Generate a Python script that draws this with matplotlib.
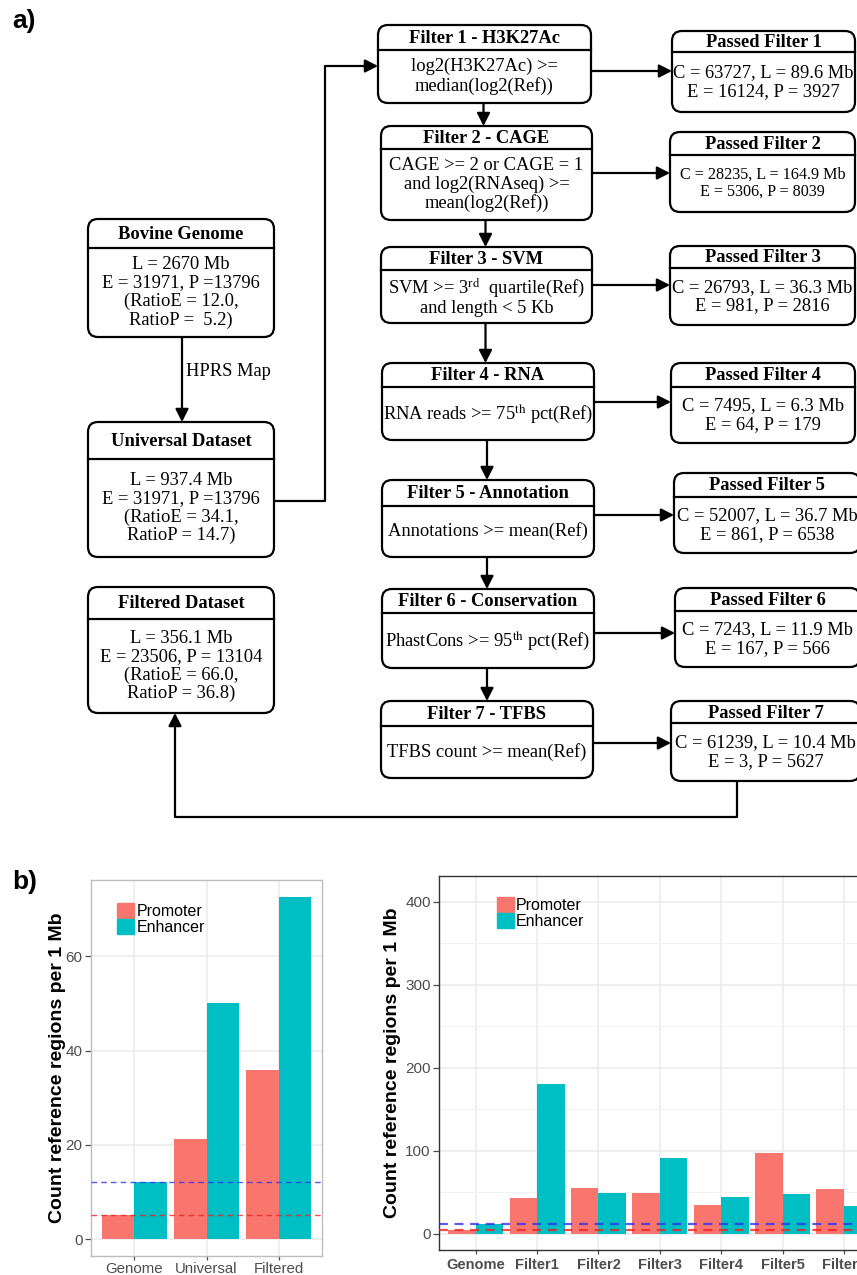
import matplotlib.pyplot as plt
from matplotlib.patches import FancyBboxPatch, Patch

plt.rcParams['font.family'] = 'Liberation Sans'
plt.rcParams['mathtext.fontset'] = 'stix'

# ---- panel b data (regions per 1 Mb) ----
left_cats = ['Genome', 'Universal', 'Filtered']
left_promoter = [5.2, 21.2, 35.8]
left_enhancer = [12.0, 50.2, 72.6]

right_cats = ['Genome', 'Filter1', 'Filter2', 'Filter3', 'Filter4', 'Filter5', 'Filter6']
right_promoter = [5.2, 43.6, 55.0, 49.6, 35.0, 97.6, 54.0]
right_enhancer = [12.0, 181.0, 49.0, 91.6, 45.0, 48.0, 34.0]

genome_ratio_promoter = 5.2
genome_ratio_enhancer = 12.0

# ---- panel a text ----
filter_titles = ['Filter 1 - H3K27Ac', 'Filter 2 - CAGE', 'Filter 3 - SVM', 'Filter 4 - RNA',
                 'Filter 5 - Annotation', 'Filter 6 - Conservation', 'Filter 7 - TFBS']
filter_rules = ['log2(H3K27Ac) >=\nmedian(log2(Ref))',
                'CAGE >= 2 or CAGE = 1\nand log2(RNAseq) >=\nmean(log2(Ref))',
                'SVM >= 3$^{\\mathrm{rd}}$  quartile(Ref)\nand length < 5 Kb',
                'RNA reads >= 75$^{\\mathrm{th}}$ pct(Ref)',
                'Annotations >= mean(Ref)',
                'PhastCons >= 95$^{\\mathrm{th}}$ pct(Ref)',
                'TFBS count >= mean(Ref)']
passed_titles = ['Passed Filter %d' % i for i in range(1, 8)]
passed_counts = ['C = 63727, L = 89.6 Mb\nE = 16124, P = 3927',
                 'C = 28235, L = 164.9 Mb\nE = 5306, P = 8039',
                 'C = 26793, L = 36.3 Mb\nE = 981, P = 2816',
                 'C = 7495, L = 6.3 Mb\nE = 64, P = 179',
                 'C = 52007, L = 36.7 Mb\nE = 861, P = 6538',
                 'C = 7243, L = 11.9 Mb\nE = 167, P = 566',
                 'C = 61239, L = 10.4 Mb\nE = 3, P = 5627']
dataset_titles = ['Bovine Genome', 'Universal Dataset', 'Filtered Dataset']
dataset_stats = ['L = 2670 Mb\nE = 31971, P =13796\n(RatioE = 12.0,\nRatioP =  5.2)',
                 'L = 937.4 Mb\nE = 31971, P =13796\n(RatioE = 34.1,\nRatioP = 14.7)',
                 'L = 356.1 Mb\nE = 23506, P = 13104\n(RatioE = 66.0,\nRatioP = 36.8)']

# box geometry in pixels: x0, y0, x1, y1, header line y
filter_boxes = [(378, 25, 591, 103, 50), (381, 126, 592, 220, 149), (381, 247, 592, 323, 270),
                (382, 363, 594, 440, 387), (382, 480, 594, 557, 506), (382, 589, 594, 668, 613),
                (381, 701, 593, 778, 726)]
passed_boxes = [(672, 31, 855, 112, 52), (670, 132, 855, 212, 155), (670, 246, 855, 325, 268),
                (671, 363, 855, 443, 387), (674, 473, 860, 553, 497), (675, 588, 860, 667, 611),
                (671, 701, 860, 781, 723)]
dataset_boxes = [(88, 219, 274, 337, 248), (88, 422, 274, 557, 459), (88, 587, 274, 713, 619)]
link_y = [71, 173, 285, 402, 515, 633, 743]

W, H = 857, 1275
fig = plt.figure(figsize=(W / 100, H / 100), dpi=100)
ax = fig.add_axes([0, 0, 1, 1])
ax.set_xlim(0, W)
ax.set_ylim(H, 0)
ax.axis('off')

LW = 1.6
FS = 13.3
serif = 'Liberation Serif'


def box(geom, title, body, size=FS):
    x0, y0, x1, y1, yh = geom
    ax.add_patch(FancyBboxPatch((x0, y0), x1 - x0, y1 - y0,
                                boxstyle='round,pad=0,rounding_size=10',
                                fc='white', ec='black', lw=LW))
    ax.plot([x0, x1], [yh, yh], color='black', lw=LW)
    ax.text((x0 + x1) / 2, (y0 + yh) / 2 + 1, title, ha='center', va='center',
            family=serif, weight='bold', fontsize=FS)
    ax.text((x0 + x1) / 2, (yh + y1) / 2, body, ha='center', va='center',
            family=serif, fontsize=size, linespacing=1.1)


def arrow(x0, y0, x1, y1):
    ax.annotate('', xy=(x1, y1), xytext=(x0, y0),
                arrowprops=dict(arrowstyle='-|>,head_length=0.55,head_width=0.28',
                                color='black', lw=LW, shrinkA=0, shrinkB=0,
                                mutation_scale=14))


def line(xs, ys):
    ax.plot(xs, ys, color='black', lw=LW, solid_joinstyle='round', solid_capstyle='butt')


for i in range(7):
    box(filter_boxes[i], filter_titles[i], filter_rules[i])
    box(passed_boxes[i], passed_titles[i], passed_counts[i], size=11.6 if i == 1 else FS)
    arrow(filter_boxes[i][2], link_y[i], passed_boxes[i][0], link_y[i])
    if i < 6:
        xc = (filter_boxes[i][0] + filter_boxes[i][2]) / 2 - 1
        arrow(xc, filter_boxes[i][3], xc, filter_boxes[i + 1][1])

for i in range(3):
    box(dataset_boxes[i], dataset_titles[i], dataset_stats[i])

# genome -> universal
arrow(182, 337, 182, 422)
ax.text(186, 371, 'HPRS Map', ha='left', va='center', family=serif, fontsize=FS)
# universal -> filter 1
line([274, 325, 325], [501, 501, 66])
arrow(325, 66, 378, 66)
# passed filter 7 -> filtered dataset
line([737, 737, 175, 175], [781, 817, 817, 760])
arrow(175, 760, 175, 713)

ax.text(12, 21, 'a)', fontsize=19, weight='bold', ha='left', va='center')
ax.text(12, 882, 'b)', fontsize=19, weight='bold', ha='left', va='center')

# ---- panel b ----
PROM = '#F8766D'
ENH = '#00BFC4'


def px_axes(x0, y0, x1, y1):
    return fig.add_axes([x0 / W, 1 - y1 / H, (x1 - x0) / W, (y1 - y0) / H])


def bar_panel(axb, cats, prom, enh, ylim, yticks, minor, border, bold_x, dash_lw, label_x, leg_pos):
    x = list(range(len(cats)))
    axb.bar([v - 0.225 for v in x], prom, width=0.45, color=PROM, zorder=2)
    axb.bar([v + 0.225 for v in x], enh, width=0.45, color=ENH, zorder=2)
    axb.axhline(genome_ratio_enhancer, color='#3030F0', ls=(0, (4, 3)), lw=dash_lw, alpha=0.8, zorder=3)
    axb.axhline(genome_ratio_promoter, color='#F02020', ls=(0, (4, 3)), lw=dash_lw, alpha=0.8, zorder=3)
    axb.set_ylim(*ylim)
    axb.set_yticks(yticks)
    if minor:
        axb.set_yticks(minor, minor=True)
    axb.set_xticks(x)
    axb.set_xticklabels(cats, fontsize=10.8 if not bold_x else 10.5, color='#4D4D4D',
                        weight='bold' if bold_x else 'normal')
    axb.tick_params(axis='y', labelsize=11, colors='#4D4D4D', length=4, width=0.9, pad=2)
    axb.tick_params(axis='x', length=3, width=0.9, color='#4D4D4D', pad=1 if not bold_x else 3)
    axb.tick_params(which='minor', length=0)
    axb.grid(True, which='major', color='#EBEBEB', lw=1.1)
    axb.grid(True, which='minor', axis='y', color='#F2F2F2', lw=0.7)
    axb.set_axisbelow(True)
    for s in axb.spines.values():
        s.set_color(border)
        s.set_linewidth(1.0)
    axb.text(label_x, 0.5, 'Count reference regions per 1 Mb', transform=axb.transAxes,
             rotation=90, ha='center', va='center', fontsize=14, weight='bold')
    handles = [Patch(color=PROM, label='Promoter'), Patch(color=ENH, label='Enhancer')]
    axb.legend(handles=handles, loc='upper left', bbox_to_anchor=leg_pos, frameon=False,
               fontsize=11.5, handlelength=1.05, handleheight=1.1, handletextpad=0.15,
               labelspacing=0.0, borderpad=0, borderaxespad=0)


axl = px_axes(91, 880, 322, 1256)
axl.set_xlim(-0.6, 2.6)
bar_panel(axl, left_cats, left_promoter, left_enhancer, (-3.6, 76.2), [0, 20, 40, 60], None,
          '#BDBDBD', False, 1.0, -0.147, (0.113, 0.939))

axr = px_axes(439, 876, 942, 1250)
axr.set_xlim(-0.6, 7.6)
bar_panel(axr, right_cats, right_promoter, right_enhancer, (-19.3, 431), [0, 100, 200, 300, 400],
          [50, 150, 250, 350], '#333333', True, 1.6, -0.093, (0.115, 0.944))

fig.savefig('out.png', dpi=100)
